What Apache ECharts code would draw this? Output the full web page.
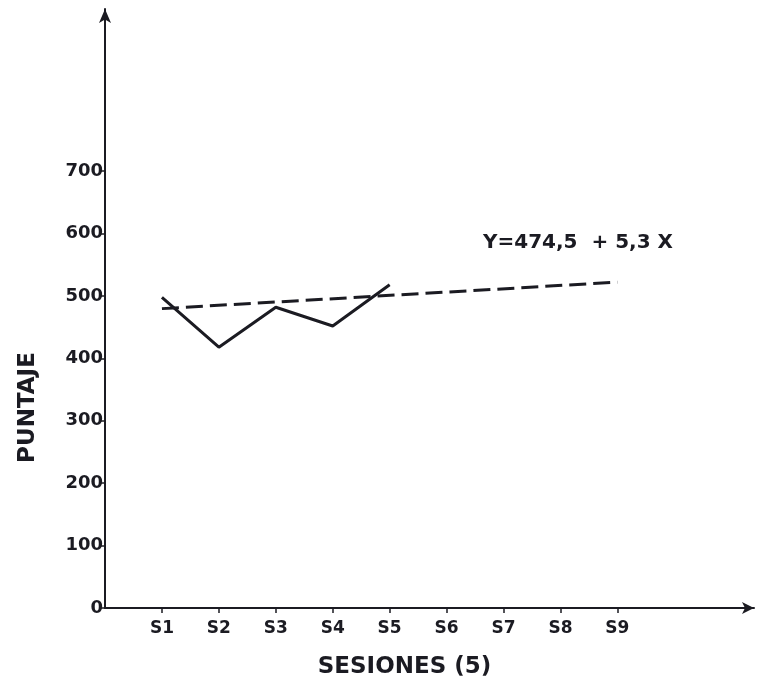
<!DOCTYPE html>
<html>
<head>
<meta charset="utf-8">
<script src="https://cdn.jsdelivr.net/npm/echarts@6/dist/echarts.min.js"></script>
<style>
  html, body { margin: 0; padding: 0; background: #ffffff; }
  #chart { width: 757px; height: 688px; }
</style>
</head>
<body>
<div id="chart"></div>
<script>
// Sessions along the horizontal axis
const sessions = ['S1', 'S2', 'S3', 'S4', 'S5', 'S6', 'S7', 'S8', 'S9'];
// Observed score per session (S1..S5)
const scores = [498, 418, 482, 452, 518];
// Fitted trend: Y = 474,5 + 5,3 X
const intercept = 474.5;
const slope = 5.3;
// Sessions where the trend line starts and ends
const trendSpan = [1, 9];
// Labelled values on the score axis
const scoreTicks = [0, 100, 200, 300, 400, 500, 600, 700];

const ink = '#1b1b22';
const font = 'DejaVu Sans';
const sessionPos = sessions.map((s, i) => i + 1);

const chart = echarts.init(document.getElementById('chart'), null, { renderer: 'canvas' });

chart.setOption({
  backgroundColor: '#ffffff',
  animation: false,
  grid: { left: 105, right: 3, top: 9, bottom: 80, containLabel: false },
  xAxis: {
    type: 'value',
    min: 0,
    max: 11.4,
    interval: 1,
    name: 'SESIONES (5)',
    nameLocation: 'middle',
    nameGap: 48,
    nameTextStyle: {
      color: ink, fontFamily: font, fontWeight: 'bold', fontSize: 23,
      padding: [0, 50, 0, 0]
    },
    axisLine: {
      show: true,
      symbol: ['none', 'arrow'],
      symbolSize: [9, 12],
      lineStyle: { color: ink, width: 2 }
    },
    axisTick: {
      show: true, length: 5, customValues: sessionPos,
      lineStyle: { color: ink, width: 1.5 }
    },
    axisLabel: {
      customValues: sessionPos,
      formatter: v => sessions[Math.round(v) - 1] || '',
      margin: 12,
      color: ink, fontFamily: font, fontWeight: 'bold', fontSize: 17
    },
    splitLine: { show: false }
  },
  yAxis: {
    type: 'value',
    min: 0,
    max: 960,
    interval: 100,
    name: 'PUNTAJE',
    nameLocation: 'middle',
    nameRotate: 90,
    nameGap: 65,
    nameTextStyle: {
      color: ink, fontFamily: font, fontWeight: 'bold', fontSize: 23,
      padding: [0, 198, 0, 0]
    },
    axisLine: {
      show: true,
      symbol: ['none', 'arrow'],
      symbolSize: [9, 14],
      lineStyle: { color: ink, width: 2 }
    },
    axisTick: {
      show: true, length: 6, customValues: scoreTicks,
      lineStyle: { color: ink, width: 1.5 }
    },
    axisLabel: {
      customValues: scoreTicks,
      margin: 2,
      color: ink, fontFamily: font, fontWeight: 'bold', fontSize: 18
    },
    splitLine: { show: false }
  },
  graphic: [{
    type: 'text',
    left: 483,
    top: 233,
    style: {
      text: 'Y=474,5  + 5,3 X',
      fill: ink,
      font: 'bold 20px "DejaVu Sans"'
    }
  }],
  series: [
    {
      name: 'Puntaje',
      type: 'line',
      data: scores.map((v, i) => [sessionPos[i], v]),
      showSymbol: false,
      lineStyle: { color: ink, width: 3 },
      z: 3
    },
    {
      name: 'Tendencia',
      type: 'line',
      data: trendSpan.map(x => [x, intercept + slope * x]),
      showSymbol: false,
      lineStyle: { color: ink, width: 3, type: [17, 7] },
      z: 2
    }
  ]
});
</script>
</body>
</html>
